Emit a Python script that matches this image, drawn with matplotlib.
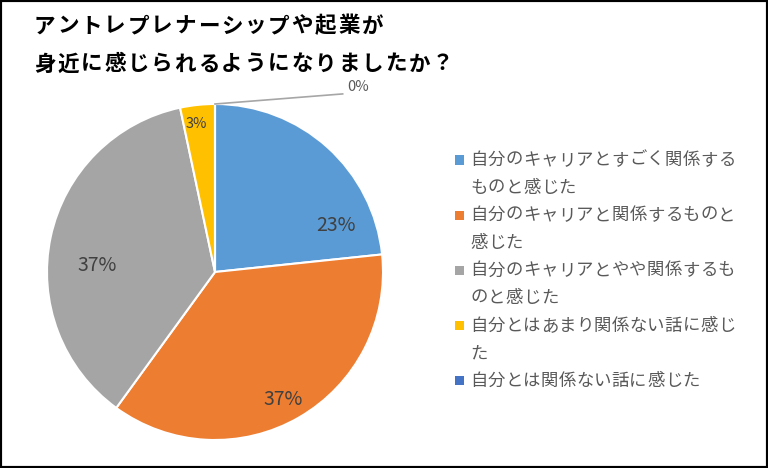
import matplotlib
matplotlib.use("Agg")
import matplotlib.pyplot as plt
import matplotlib.patches as mpatches
import numpy as np

plt.rcParams['font.family'] = ['Noto Sans CJK JP', 'DejaVu Sans']

title_lines = ["アントレプレナーシップや起業が", "身近に感じられるようになりましたか？"]
categories = [
    "自分のキャリアとすごく関係するものと感じた",
    "自分のキャリアと関係するものと感じた",
    "自分のキャリアとやや関係するものと感じた",
    "自分とはあまり関係ない話に感じた",
    "自分とは関係ない話に感じた",
]
legend_lines = [
    ["自分のキャリアとすごく関係する", "ものと感じた"],
    ["自分のキャリアと関係するものと", "感じた"],
    ["自分のキャリアとやや関係するも", "のと感じた"],
    ["自分とはあまり関係ない話に感じ", "た"],
    ["自分とは関係ない話に感じた"],
]
counts = [7, 11, 11, 1, 0]
pct_labels = ["23%", "37%", "37%", "3%", "0%"]
colors = ["#5B9BD5", "#ED7D31", "#A5A5A5", "#FFC000", "#4472C4"]

W, H = 768, 468
fig = plt.figure(figsize=(W / 100, H / 100), dpi=100)
fig.patch.set_facecolor("white")


def spaced_text(x_px, y_px, s, pitch, **kw):
    for i, ch in enumerate(s):
        fig.text((x_px + i * pitch) / W, 1 - y_px / H, ch, ha="left", va="center", **kw)


cx, cy, R = 215, 272, 168
ax = fig.add_axes([(cx - R) / W, (H - cy - R) / H, 2 * R / W, 2 * R / H])
wedges, _ = ax.pie(counts, colors=colors, startangle=90, counterclock=False,
                   radius=1, wedgeprops=dict(edgecolor="white", linewidth=1.5))
ax.set_xlim(-1, 1)
ax.set_ylim(-1, 1)
ax.set_aspect("equal")
ax.axis("off")

# label layout (radius fraction, angle offset in degrees, fontsize)
label_layout = [(0.77, -27, 14), (0.86, -2, 14), (0.70, 9, 14), (0.89, 1, 10.5)]
for i, (w, lab) in enumerate(zip(wedges[:4], pct_labels[:4])):
    r, off, fs = label_layout[i]
    th = np.deg2rad((w.theta1 + w.theta2) / 2 + off)
    ax.text(r * np.cos(th), r * np.sin(th), lab, ha="center", va="center",
            fontsize=fs, color="#404040")

# zero slice leader line
w0 = wedges[4]
th0 = np.deg2rad(w0.theta1)
x0, y0 = np.cos(th0), np.sin(th0)
ax.plot([x0, 0.76], [y0, 1.06], color="#A6A6A6", lw=1.2, clip_on=False)
ax.text(0.79, 1.10, pct_labels[4], ha="left", va="center", fontsize=10.5,
        color="#595959", clip_on=False)

# title
spaced_text(34, 26, title_lines[0], 23.4, fontsize=15.5, fontweight="bold", color="black")
spaced_text(34, 64, title_lines[1], 23.4, fontsize=15.5, fontweight="bold", color="black")

# legend
y = 160
step = 27.6
for col, lines in zip(colors, legend_lines):
    sq = 9
    fig.patches.append(mpatches.Rectangle((455 / W, (H - y - sq / 2) / H), sq / W, sq / H,
                                          transform=fig.transFigure, facecolor=col,
                                          edgecolor="none"))
    for ln in lines:
        spaced_text(470, y, ln, 17.7, fontsize=12.5, color="#595959")
        y += step

# border
fig.patches.append(mpatches.Rectangle((0, 0), 1, 1, transform=fig.transFigure,
                                      fill=False, edgecolor="black", linewidth=3))

fig.savefig("out.png", dpi=100)
